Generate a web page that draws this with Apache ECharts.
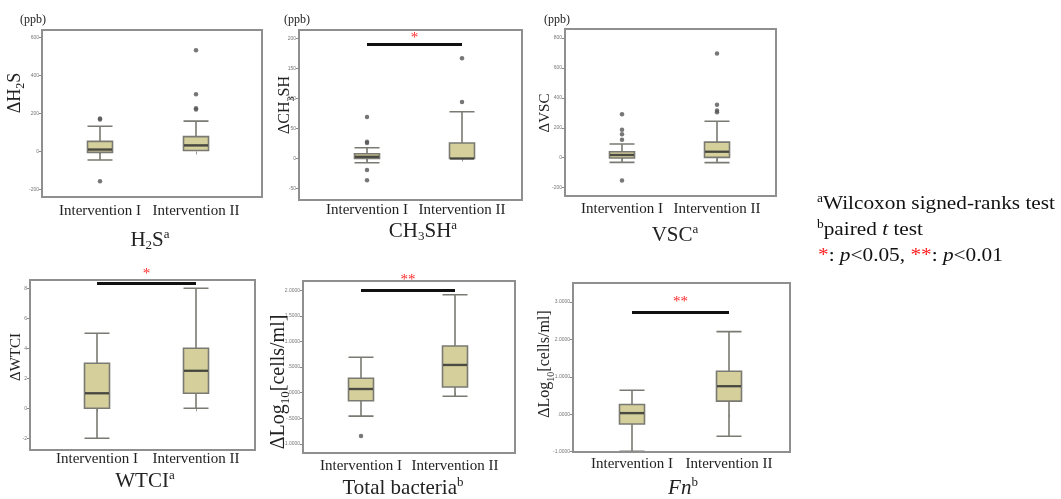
<!DOCTYPE html>
<html><head><meta charset="utf-8">
<script src="https://cdn.jsdelivr.net/npm/echarts@6/dist/echarts.min.js"></script>
<style>html,body{margin:0;padding:0;background:#fff}#c{width:1061px;height:499px}</style>
</head><body><div id="c"></div>
<script>
const categories = ['Intervention I', 'Intervention II'];
// boxplot rows: [lower whisker, Q1, median, Q3, upper whisker]
const h2sBox = [[-45, -5, 10, 53, 133], [5, 5, 32, 78, 160]];
const h2sOut = [[0, 174], [0, 169], [0, -157], [1, 533], [1, 302], [1, 228], [1, 221]];
const ch3shBox = [[-7, 0, 3, 8, 18], [0, 0, 0, 26, 78]];
const ch3shOut = [[0, 69], [0, 28], [0, 26], [0, -19], [0, -36], [1, 94], [1, 167]];
const vscBox = [[-31, -2, 18, 40, 91], [-33, 2, 40, 104, 244]];
const vscOut = [[0, 120], [0, 156], [0, 187], [0, 291], [0, -153], [1, 304], [1, 316], [1, 353], [1, 696]];
const wtciBox = [[-2, 0, 1, 3, 5], [0, 1, 2.5, 4, 8]];
const wtciOut = [];
const totalBox = [[-0.46, -0.16, 0.07, 0.28, 0.69], [-0.07, 0.11, 0.54, 0.91, 1.91]];
const totalOut = [[0, -0.85]];
const fnBox = [[-0.99, -0.26, 0.03, 0.26, 0.64], [-0.59, 0.35, 0.75, 1.15, 2.21]];
const fnOut = [];

const h2sTicks = [-200, 0, 200, 400, 600];
const ch3shTicks = [-50, 0, 50, 100, 150, 200];
const vscTicks = [-200, 0, 200, 400, 600, 800];
const wtciTicks = [-2, 0, 2, 4, 6, 8];
const totalTicks = [-1, -0.5, 0, 0.5, 1, 1.5, 2];
const fnTicks = [-1, 0, 1, 2, 3];
const spssLabel = v => { // SPSS style: .5000, -.5000
  if (Number.isInteger(v) && Math.abs(v) >= 1) return v.toFixed(4);
  let s = Math.abs(v).toFixed(4).replace(/^0/, '');
  return (v < 0 ? '-' : '') + s;
};

// significance: [level value, stars]
const sigCH3SH = [190, '*'];
const sigWTCI = [8.33, '*'];
const sigTotal = [1.99, '**'];
const sigFn = [2.72, '**'];

const SERIF = '"Liberation Serif", "Times New Roman", serif';

const panels = [
  { box: h2sBox, out: h2sOut, ticks: h2sTicks, fmt: v => String(v), min: -240, max: 640, frame: [42, 30, 262, 197], c: [100, 196], sig: null, lm: 7 },
  { box: ch3shBox, out: ch3shOut, ticks: ch3shTicks, fmt: v => String(v), min: -69, max: 214, frame: [299, 30, 522, 200], c: [367, 462], sig: sigCH3SH, starDist: -1, lm: 3 },
  { box: vscBox, out: vscOut, ticks: vscTicks, fmt: v => String(v), min: -256, max: 860, frame: [565, 29, 776, 196], c: [622, 717], sig: null, lm: 6 },
  { box: wtciBox, out: wtciOut, ticks: wtciTicks, fmt: v => String(v), min: -2.78, max: 8.55, frame: [30, 280, 255, 450], c: [97, 196], sig: sigWTCI, starDist: 2, lm: 2 },
  { box: totalBox, out: totalOut, ticks: totalTicks, fmt: spssLabel, min: -1.18, max: 2.18, frame: [303, 281, 515, 453], c: [361, 455], sig: sigTotal, starDist: 3, lm: 6 },
  { box: fnBox, out: fnOut, ticks: fnTicks, fmt: spssLabel, min: -1.01, max: 3.51, frame: [573, 283, 790, 452], c: [632, 729], sig: sigFn, starDist: 3, lm: 5 }
];

const grids = [], xAxes = [], yAxes = [], series = [], graphics = [];
panels.forEach((p, i) => {
  const sp = p.c[1] - p.c[0];
  const gl = p.c[0] - sp / 2;
  grids.push({ left: gl, width: sp * 2, top: p.frame[1], height: p.frame[3] - p.frame[1], containLabel: false });
  xAxes.push({
    type: 'category', gridIndex: i, data: categories, boundaryGap: true,
    axisLine: { show: false },
    axisTick: { show: true, alignWithLabel: true, interval: 0, length: 3, lineStyle: { color: '#999' } },
    axisLabel: { interval: 0, hideOverlap: false, fontFamily: SERIF, fontSize: 15, color: '#222', margin: p.lm }
  });
  yAxes.push({
    type: 'value', gridIndex: i, min: p.min, max: p.max, offset: gl - p.frame[0],
    splitLine: { show: false },
    axisLine: { show: false },
    axisTick: { show: true, length: 3, customValues: p.ticks, lineStyle: { color: '#888' } },
    axisLabel: { show: true, customValues: p.ticks, formatter: p.fmt, fontSize: 5, color: '#777', margin: 3, fontFamily: 'Arial, sans-serif' }
  });
  series.push({
    type: 'boxplot', xAxisIndex: i, yAxisIndex: i, data: p.box, boxWidth: [25, 25],
    itemStyle: { color: '#d5cf9c', borderColor: '#7a7a72', borderWidth: 1.6 },
    emphasis: { disabled: true }, silent: true, z: 2
  });
  const med = {
    type: 'scatter', xAxisIndex: i, yAxisIndex: i,
    data: p.box.map((b, k) => [k, b[2]]),
    symbol: 'rect', symbolSize: [24, 2.4], itemStyle: { color: '#3b3b35' }, silent: true, z: 3
  };
  if (p.sig) {
    med.markLine = {
      silent: true, symbol: 'none', animation: false,
      lineStyle: { color: '#111', width: 3, type: 'solid' },
      label: { show: true, position: 'middle', formatter: p.sig[1], color: '#ff2a2a', fontSize: 15, fontFamily: SERIF, distance: p.starDist },
      data: [[{ coord: [0, p.sig[0]] }, { coord: [1, p.sig[0]] }]]
    };
  }
  series.push(med);
  series.push({
    type: 'scatter', xAxisIndex: i, yAxisIndex: i, data: p.out,
    symbolSize: 4.5, itemStyle: { color: '#555' }, silent: true, z: 4
  });
  graphics.push({
    type: 'rect', shape: { x: p.frame[0], y: p.frame[1], width: p.frame[2] - p.frame[0], height: p.frame[3] - p.frame[1] },
    style: { fill: 'none', stroke: '#8f8f8f', lineWidth: 2 }, z: 10, silent: true
  });
});

function mkRich(ms) {
  return {
    m: { fontFamily: SERIF, fontSize: ms, lineHeight: ms + 6, fill: '#222' },
    s: { fontFamily: SERIF, fontSize: Math.round(ms * 0.65), lineHeight: Math.round(ms * 0.65), verticalAlign: 'bottom', fill: '#222' }
  };
}
const rich = {
  T: { fontFamily: SERIF, fontSize: 21, lineHeight: 24, fill: '#222' },
  Ti: { fontFamily: SERIF, fontSize: 21, lineHeight: 24, fontStyle: 'italic', fill: '#222' },
  Ts: { fontFamily: SERIF, fontSize: 13, lineHeight: 11, verticalAlign: 'bottom', fill: '#222' },
  Tp: { fontFamily: SERIF, fontSize: 13, lineHeight: 13, verticalAlign: 'top', fill: '#222' },
  L: { fontFamily: SERIF, fontSize: 19, lineHeight: 22, fill: '#111' },
  Li: { fontFamily: SERIF, fontSize: 19, lineHeight: 22, fontStyle: 'italic', fill: '#111' },
  Lp: { fontFamily: SERIF, fontSize: 12, lineHeight: 12, verticalAlign: 'top', fill: '#111' },
  Lr: { fontFamily: SERIF, fontSize: 19, lineHeight: 22, fill: '#ff2020' }
};
// (ppb) labels
[[33, 20], [297, 20], [557, 20]].forEach(pt => graphics.push({ type: 'text', x: pt[0], y: pt[1], silent: true, style: { text: '(ppb)', align: 'center', verticalAlign: 'middle', font: '12px ' + SERIF, fill: '#222' } }));
// y axis names [x, y, text, font size]
const yNames = [
  [15, 93, '{m|ΔH}{s|2}{m|S}', 18],
  [285, 105, '{m|ΔCH}{s|3}{m|SH}', 16],
  [545, 113, '{m|ΔVSC}', 15],
  [16, 357, '{m|ΔWTCI}', 15],
  [279, 382, '{m|ΔLog}{s|10}{m|[cells/ml]}', 20],
  [545, 364, '{m|ΔLog}{s|10}{m|[cells/ml]}', 16]
];
yNames.forEach(n => graphics.push({
  type: 'text', x: n[0], y: n[1], rotation: Math.PI / 2, silent: true, z: 20,
  style: { text: n[2], rich: mkRich(n[3]), align: 'center', verticalAlign: 'middle' }
}));
// panel titles
const titles = [
  [150, 240, '{T|H}{Ts|2}{T|S}{Tp|a}'],
  [423, 231, '{T|CH}{Ts|3}{T|SH}{Tp|a}'],
  [675, 235, '{T|VSC}{Tp|a}'],
  [145, 481, '{T|WTCI}{Tp|a}'],
  [403, 488, '{T|Total bacteria}{Tp|b}'],
  [683, 488, '{Ti|Fn}{Tp|b}']
];
titles.forEach(t => graphics.push({
  type: 'text', x: t[0], y: t[1], silent: true, z: 20,
  style: { text: t[2], rich: rich, align: 'center', verticalAlign: 'middle' }
}));
// notes
const notes = [
  [817, 204, '{Lp|a}{L|Wilcoxon signed-ranks test}'],
  [817, 230, '{Lp|b}{L|paired }{Li|t}{L| test}'],
  [818, 256, '{Lr|*}{L|: }{Li|p}{L|<0.05, }{Lr|**}{L|: }{Li|p}{L|<0.01}']
];
notes.forEach(n => graphics.push({
  type: 'text', x: n[0], y: n[1], scaleX: 1.12, silent: true, z: 20,
  style: { text: n[2], rich: rich, align: 'left', verticalAlign: 'middle' }
}));

const chart = echarts.init(document.getElementById('c'), null, { renderer: 'canvas' });
chart.setOption({
  backgroundColor: '#fff',
  animation: false,
  grid: grids, xAxis: xAxes, yAxis: yAxes, series: series,
  graphic: graphics
});
</script></body></html>
